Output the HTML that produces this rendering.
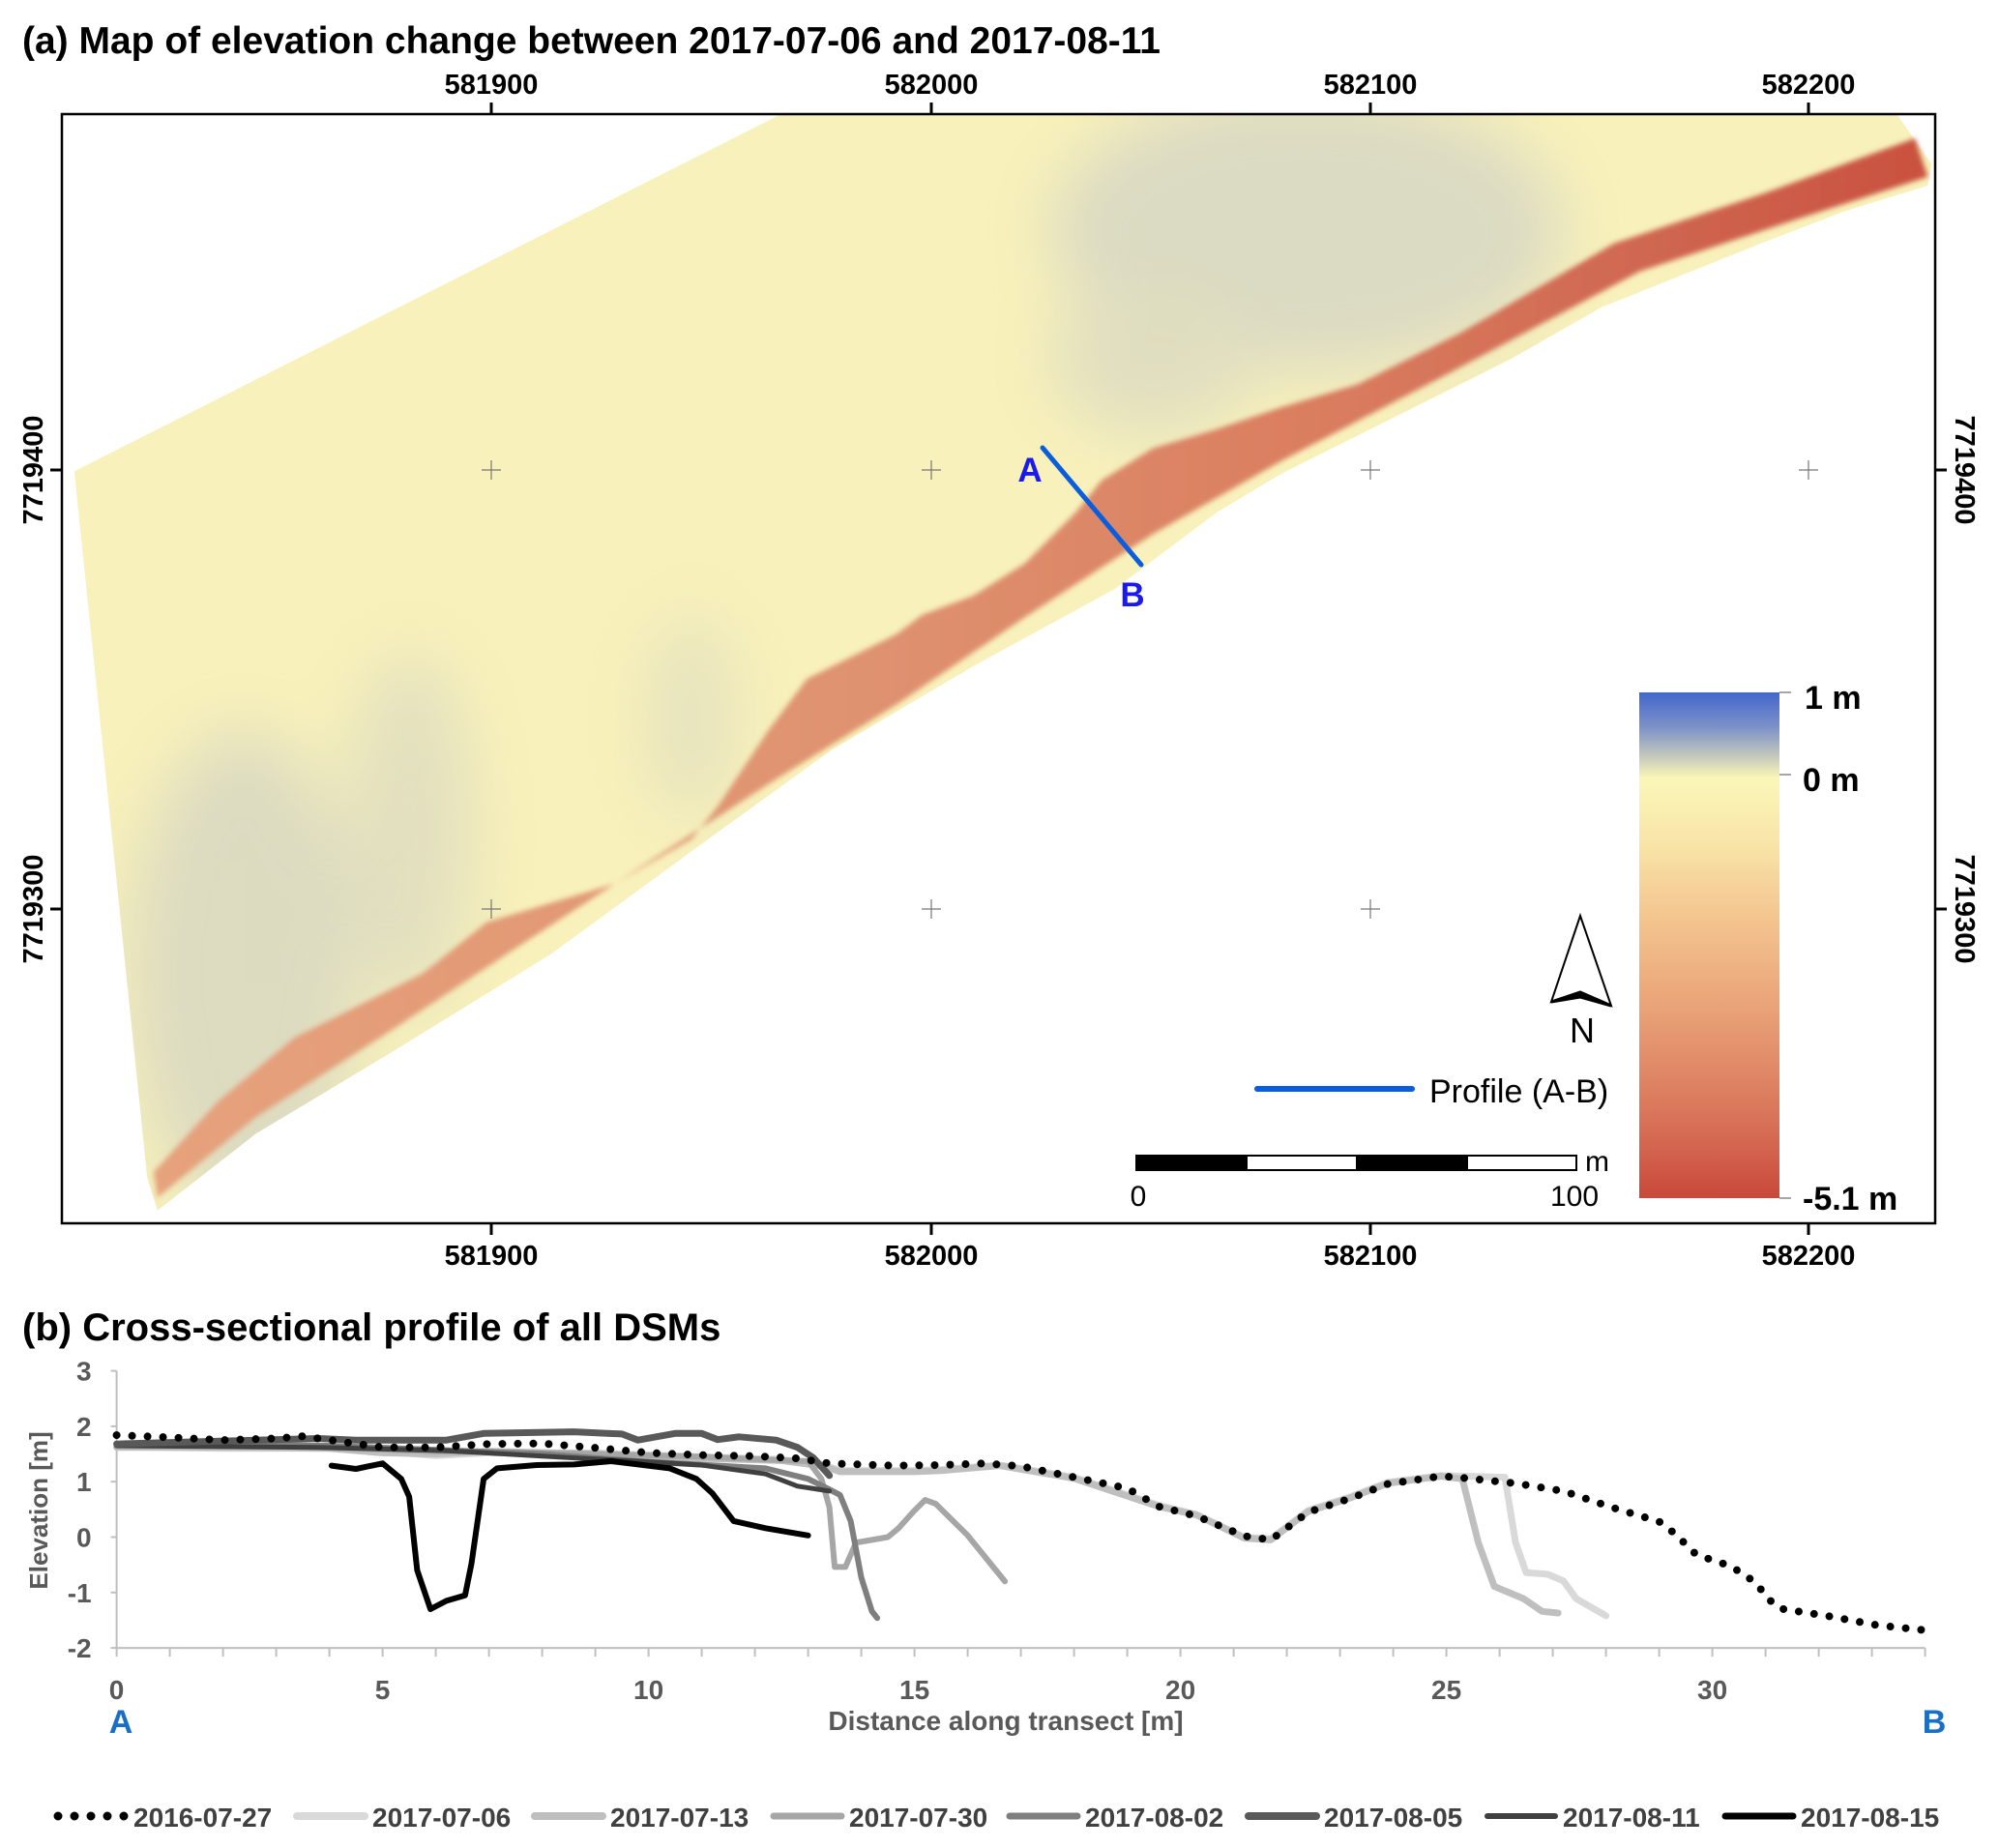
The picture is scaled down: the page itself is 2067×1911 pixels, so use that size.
<!DOCTYPE html>
<html><head><meta charset="utf-8"><style>
html,body{margin:0;padding:0;background:#fff;}
svg{display:block;}
.t{font-family:"Liberation Sans",Arial,sans-serif;}
</style></head><body>
<svg id="fig" width="2067" height="1911" viewBox="0 0 2067 1911" xmlns="http://www.w3.org/2000/svg">
<defs>
<clipPath id="mapclip"><rect x="64" y="118" width="1937" height="1147"/></clipPath>
<clipPath id="surfclip"><path d="M58,368 L612,88 L1480,88 L1508,128 L1505,145 L1440,165 L1380,188 L1250,240 L1180,280 L1100,320 L1000,370 L950,400 L870,460 L760,520 L650,585 L560,650 L430,745 L300,825 L200,885 L123,945 L115,920 Z"/></clipPath>
<linearGradient id="redg" x1="0" y1="0" x2="1" y2="0">
<stop offset="0" stop-color="#e6a27c"/><stop offset="0.4" stop-color="#df9270"/><stop offset="0.65" stop-color="#da7e60"/><stop offset="0.85" stop-color="#cf6650"/><stop offset="1" stop-color="#c9513f"/>
</linearGradient>
<linearGradient id="cbar" x1="0" y1="0" x2="0" y2="1">
<stop offset="0" stop-color="#4166cc"/><stop offset="0.07" stop-color="#7f92c8"/><stop offset="0.13" stop-color="#c9cdbb"/><stop offset="0.17" stop-color="#fbf7b8"/><stop offset="0.3" stop-color="#f8e4a8"/><stop offset="0.45" stop-color="#f3c48e"/><stop offset="0.6" stop-color="#eba77b"/><stop offset="0.75" stop-color="#e08867"/><stop offset="0.88" stop-color="#d56a53"/><stop offset="1" stop-color="#c9483a"/>
</linearGradient>
<filter id="blur" x="-50%" y="-50%" width="200%" height="200%"><feGaussianBlur stdDeviation="25"/></filter>
<filter id="blur2"><feGaussianBlur stdDeviation="2"/></filter>
</defs>

<text class="t" x="23" y="55" font-size="39" font-weight="bold">(a) Map of elevation change between 2017-07-06 and 2017-08-11</text>

<g>
<g clip-path="url(#mapclip)">
<g transform="scale(1.3245)">
<path fill="#f8f1bb" d="M58,368 L612,88 L1480,88 L1508,128 L1505,145 L1440,165 L1380,188 L1250,240 L1180,280 L1100,320 L1000,370 L950,400 L870,460 L760,520 L650,585 L560,650 L430,745 L300,825 L200,885 L123,945 L115,920 Z"/>
<g clip-path="url(#surfclip)">
<g filter="url(#blur)" opacity="0.45">
<ellipse cx="1020" cy="180" rx="200" ry="110" fill="#b8bfcc"/>
<ellipse cx="900" cy="280" rx="80" ry="60" fill="#c4c8c6"/>
<ellipse cx="190" cy="760" rx="90" ry="190" fill="#bcc1c8"/>
<ellipse cx="320" cy="650" rx="50" ry="140" fill="#c8cbc4"/>
<ellipse cx="540" cy="560" rx="35" ry="80" fill="#d0d1c2"/>
</g>
</g>
<path fill="url(#redg)" filter="url(#blur2)" d="M1495,108 L1440,128 L1380,150 L1320,170 L1260,190 L1200,225 L1140,260 L1060,300 L1000,318 L950,335 L900,350 L860,375 L840,400 L800,440 L760,465 L720,480 L700,495 L660,515 L630,530 L600,570 L560,630 L540,655 L480,690 L430,705 L380,720 L330,760 L230,810 L170,860 L120,915 L123,935 L200,872 L300,808 L400,742 L500,677 L600,612 L700,550 L800,482 L900,417 L1000,360 L1130,292 L1280,212 L1400,172 L1505,138 Z"/>
</g>
</g>
<rect x="64" y="118" width="1937" height="1147" fill="none" stroke="#000" stroke-width="2.5"/>
<g stroke="#000" stroke-width="3">
<line x1="508" y1="106" x2="508" y2="118"/><line x1="963" y1="106" x2="963" y2="118"/><line x1="1417" y1="106" x2="1417" y2="118"/><line x1="1870" y1="106" x2="1870" y2="118"/>
<line x1="508" y1="1265" x2="508" y2="1277"/><line x1="963" y1="1265" x2="963" y2="1277"/><line x1="1417" y1="1265" x2="1417" y2="1277"/><line x1="1870" y1="1265" x2="1870" y2="1277"/>
<line x1="52" y1="486" x2="64" y2="486"/><line x1="52" y1="940" x2="64" y2="940"/>
<line x1="2001" y1="486" x2="2013" y2="486"/><line x1="2001" y1="940" x2="2013" y2="940"/>
</g>
<g stroke="#777" stroke-width="1.2">
<path d="M498,486h20M508,476v20 M953,486h20M963,476v20 M1407,486h20M1417,476v20 M1860,486h20M1870,476v20 M498,940h20M508,930v20 M953,940h20M963,930v20 M1407,940h20M1417,930v20"/>
</g>
<g class="t" font-size="29" font-weight="bold" text-anchor="middle">
<text x="508" y="97">581900</text>
<text x="963" y="97">582000</text>
<text x="1417" y="97">582100</text>
<text x="1870" y="97">582200</text>
<text x="508" y="1308">581900</text>
<text x="963" y="1308">582000</text>
<text x="1417" y="1308">582100</text>
<text x="1870" y="1308">582200</text>
<text transform="translate(44,486) rotate(-90)">7719400</text>
<text transform="translate(44,940) rotate(-90)">7719300</text>
<text transform="translate(2022,486) rotate(90)">7719400</text>
<text transform="translate(2022,940) rotate(90)">7719300</text>
</g>
<line x1="1078" y1="463" x2="1180" y2="584" stroke="#0a5ddc" stroke-width="5" stroke-linecap="round"/>
<text class="t" x="1065" y="498" font-size="35" font-weight="bold" fill="#1a1aee" text-anchor="middle">A</text>
<text class="t" x="1171" y="627" font-size="35" font-weight="bold" fill="#1a1aee" text-anchor="middle">B</text>

<rect x="1695" y="716" width="145" height="523" fill="url(#cbar)"/>
<g stroke="#888" stroke-width="1.5"><line x1="1840" y1="716" x2="1852" y2="716"/><line x1="1840" y1="801" x2="1852" y2="801"/><line x1="1840" y1="1239" x2="1852" y2="1239"/></g>
<g class="t" font-size="34" font-weight="bold">
<text x="1866" y="733">1 m</text><text x="1864" y="818">0 m</text><text x="1864" y="1251">-5.1 m</text>
</g>
<g>
<path d="M1634,947 L1604,1036 L1634,1026 L1666,1040 Z" fill="#fff" stroke="#000" stroke-width="2"/>
<path d="M1604,1036 L1634,1026 L1666,1040 L1634,1031 Z" fill="#000" stroke="#000" stroke-width="3"/>
<text class="t" x="1636" y="1078" font-size="36" text-anchor="middle">N</text>
</g>
<g>
<line x1="1300" y1="1126" x2="1460" y2="1126" stroke="#0a5ddc" stroke-width="6" stroke-linecap="round"/>
<text class="t" x="1478" y="1140" font-size="34">Profile (A-B)</text>
</g>
<g>
<rect x="1175" y="1195" width="455" height="15" fill="#fff" stroke="#000" stroke-width="2"/>
<rect x="1175" y="1195" width="115" height="15" fill="#000"/>
<rect x="1402" y="1195" width="116" height="15" fill="#000"/>
<g class="t" font-size="30"><text x="1639" y="1211">m</text><text x="1177" y="1247" text-anchor="middle">0</text><text x="1628" y="1247" text-anchor="middle">100</text></g>
</g>
</g>

<text class="t" x="23" y="1386" font-size="40" font-weight="bold">(b) Cross-sectional profile of all DSMs</text>
<g id="chart"></g>
</svg>
<script>
const xTicks=[0,5,10,15,20,25,30];
const yTicks=[3,2,1,0,-1,-2];
const seriesNames=["2016-07-27","2017-07-06","2017-07-13","2017-07-30","2017-08-02","2017-08-05","2017-08-11","2017-08-15"];
const d160727=[0,1,2,3,3.5,4,5,6,7,8,9,10,11,12,12.8,13.4,14.6,15.5,16.3,17,18,19,19.6,20.3,21.2,21.7,22.4,23.2,23.9,24.9,25.3,26.3,27.2,28.1,29.0,29.3,29.7,30.3,30.6,30.85,31.03,31.27,32.2,33.1,34.0];
const v160727=[1.84,1.8,1.75,1.78,1.82,1.75,1.62,1.62,1.68,1.69,1.61,1.52,1.48,1.46,1.42,1.33,1.29,1.3,1.33,1.28,1.08,0.88,0.55,0.38,0.02,-0.05,0.45,0.7,0.96,1.1,1.07,0.97,0.83,0.54,0.28,0.06,-0.32,-0.51,-0.67,-0.86,-1.1,-1.29,-1.43,-1.59,-1.68];
const d170706=[0,2,4,5,6,7,9,11,12.5,13.3,13.6,15,15.5,16.6,18,19.6,20.3,21.2,21.7,22.4,23.2,23.9,24.9,26.1,26.3,26.5,26.9,27.2,27.44,28.0];
const v170706=[1.63,1.6,1.6,1.55,1.47,1.52,1.52,1.45,1.4,1.3,1.2,1.2,1.22,1.3,1.08,0.57,0.41,0.0,-0.03,0.48,0.73,0.99,1.11,1.08,-0.1,-0.64,-0.67,-0.79,-1.11,-1.42];
const d170713=[0,2,4,5,6,7,9,11,12.5,13.3,13.6,15,15.5,16.6,18,19.6,20.3,21.2,21.7,22.4,23.2,23.9,24.9,25.3,25.6,25.9,26.45,26.8,27.1];
const v170713=[1.62,1.62,1.6,1.52,1.5,1.55,1.5,1.42,1.38,1.28,1.18,1.18,1.2,1.29,1.06,0.55,0.4,-0.02,-0.05,0.46,0.71,0.97,1.1,1.05,-0.1,-0.89,-1.11,-1.34,-1.37];
const d170730=[0,3,6,9,11,12.2,13.0,13.25,13.4,13.5,13.7,13.9,14.5,14.7,15.0,15.2,15.4,16.0,16.7];
const v170730=[1.64,1.64,1.55,1.5,1.45,1.4,1.37,1.05,0.54,-0.54,-0.54,-0.1,0.0,0.16,0.48,0.67,0.6,0.03,-0.8];
const d170802=[0,4,8,9.8,12.2,13.0,13.4,13.6,13.8,14.0,14.2,14.3];
const v170802=[1.68,1.65,1.5,1.37,1.24,1.05,0.86,0.76,0.29,-0.73,-1.34,-1.46];
const d170805=[0,3.8,4.5,6.2,6.9,8.6,9.5,9.8,10.5,11.0,11.3,11.7,12.4,12.8,13.1,13.4];
const v170805=[1.68,1.78,1.75,1.75,1.87,1.9,1.86,1.75,1.87,1.87,1.76,1.81,1.75,1.62,1.43,1.11];
const d170811=[0,3.8,6.2,8.6,9.8,11.0,12.2,12.8,13.4];
const v170811=[1.65,1.62,1.56,1.43,1.37,1.3,1.14,0.92,0.83];
const d170815=[4.04,4.5,5.0,5.35,5.5,5.65,5.9,6.2,6.55,6.67,6.9,7.15,7.9,8.6,9.3,10.4,10.9,11.2,11.6,12.2,13.0];
const v170815=[1.29,1.23,1.33,1.05,0.73,-0.6,-1.3,-1.15,-1.05,-0.48,1.05,1.24,1.3,1.31,1.37,1.24,1.05,0.79,0.29,0.16,0.03];

const X0=120.6, XS=55, Y0=1417.6, YS=57.3;
function xs(d){return X0+d*XS;}
function ys(v){return Y0+(3-v)*YS;}
const NS="http://www.w3.org/2000/svg";
const chart=document.getElementById('chart');
function mk(tag,attrs,parent){const e=document.createElementNS(NS,tag);for(const k in attrs)e.setAttribute(k,attrs[k]);(parent||chart).appendChild(e);return e;}

const ya=mk('line',{x1:xs(0),y1:ys(3),x2:xs(0),y2:ys(-2),stroke:'#bfbfbf','stroke-width':2});


const xa=mk('line',{x1:xs(0),y1:ys(-2),x2:xs(34),y2:ys(-2),stroke:'#bfbfbf','stroke-width':2});


for(let i=0;i<=34;i++){
  const t=mk('line',{x1:xs(i),y1:ys(-2),x2:xs(i),y2:ys(-2)+9,stroke:'#bfbfbf','stroke-width':2});
  
  
}
yTicks.forEach(v=>{
  const t=mk('line',{x1:xs(0)-6,y1:ys(v),x2:xs(0),y2:ys(v),stroke:'#bfbfbf','stroke-width':2});
  
  
  const l=mk('text',{x:xs(0)-26,y:ys(v)+10,'font-size':28,'font-weight':'bold',fill:'#595959','text-anchor':'end',class:'t'});
  l.textContent=v;
  
  
});
xTicks.forEach(d=>{
  const l=mk('text',{x:xs(d),y:1757,'font-size':28,'font-weight':'bold',fill:'#595959','text-anchor':'middle',class:'t'});
  l.textContent=d;
  
  
});
const xt=mk('text',{x:1040,y:1789,'font-size':28,'font-weight':'bold',fill:'#595959','text-anchor':'middle',class:'t'});
xt.textContent='Distance along transect [m]';


const yt=mk('text',{transform:'translate(49,1562) rotate(-90)','font-size':26,'font-weight':'bold',fill:'#595959','text-anchor':'middle',class:'t'});
yt.textContent='Elevation [m]';


const la=mk('text',{x:125,y:1792,'font-size':34,'font-weight':'bold',fill:'#1a6fc4','text-anchor':'middle',class:'t'});
la.textContent='A';


const lb=mk('text',{x:2000,y:1792,'font-size':34,'font-weight':'bold',fill:'#1a6fc4','text-anchor':'middle',class:'t'});
lb.textContent='B';



const styles=[
 {c:'#000',w:8,dash:'0 16'},
 {c:'#d9d9d9',w:7},
 {c:'#bfbfbf',w:7},
 {c:'#a6a6a6',w:6},
 {c:'#7f7f7f',w:6},
 {c:'#595959',w:7},
 {c:'#404040',w:5},
 {c:'#000',w:6}
];
const data=[[d160727,v160727],[d170706,v170706],[d170713,v170713],[d170730,v170730],[d170802,v170802],[d170805,v170805],[d170811,v170811],[d170815,v170815]];
const order=[1,2,3,4,6,5,7,0];
order.forEach(i=>{
  const [ds,vs]=data[i];
  const pts=ds.map((d,k)=>xs(d).toFixed(1)+','+ys(vs[k]).toFixed(1)).join(' L');
  const s=styles[i];
  const p=mk('path',{d:'M'+pts,fill:'none',stroke:s.c,'stroke-width':s.w,'stroke-linecap':'round','stroke-linejoin':'round'});
  if(s.dash)p.setAttribute('stroke-dasharray',s.dash);
  
  
});
const legX=[56,303,549,796,1040,1287,1534,1780];
seriesNames.forEach((n,i)=>{
  const s=styles[i];
  const l=mk('line',{x1:legX[i]+4,y1:1878,x2:legX[i]+74,y2:1878,stroke:s.c,'stroke-width':s.dash?9:s.w+1,'stroke-linecap':'round'});
  if(s.dash)l.setAttribute('stroke-dasharray','0 17');
  
  
  const t=mk('text',{x:legX[i]+82,y:1889,'font-size':28,'font-weight':'bold',fill:'#404040',class:'t'});
  t.textContent=n;
  
  
});
</script>
</body></html>
